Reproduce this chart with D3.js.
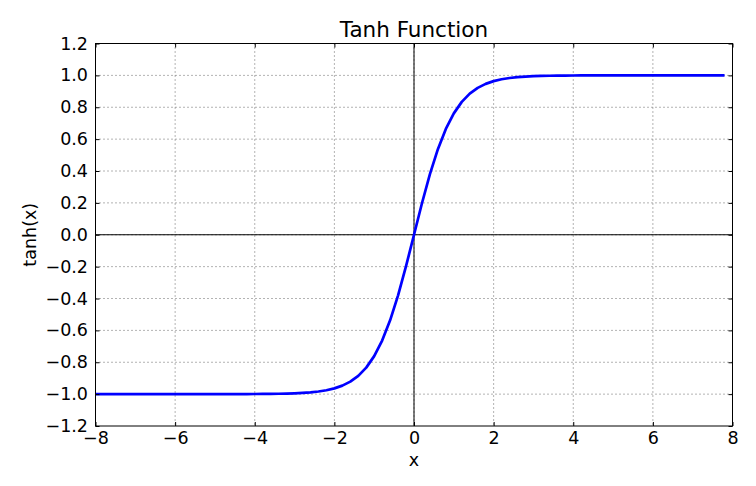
<!DOCTYPE html>
<html>
<head>
<meta charset="utf-8">
<script src="https://cdn.jsdelivr.net/npm/d3@7"></script>
<style>
  body { margin: 0; background: #fff; }
  svg { display: block; font-family: "DejaVu Sans", sans-serif; }
</style>
</head>
<body>
<div id="chart"></div>
<script>
// sample points (step 0.2)
var xValues = [
  -8.0, -7.8, -7.6, -7.4, -7.2, -7.0, -6.8, -6.6, -6.4, -6.2,
  -6.0, -5.8, -5.6, -5.4, -5.2, -5.0, -4.8, -4.6, -4.4, -4.2,
  -4.0, -3.8, -3.6, -3.4, -3.2, -3.0, -2.8, -2.6, -2.4, -2.2,
  -2.0, -1.8, -1.6, -1.4, -1.2, -1.0, -0.8, -0.6, -0.4, -0.2,
   0.0,  0.2,  0.4,  0.6,  0.8,  1.0,  1.2,  1.4,  1.6,  1.8,
   2.0,  2.2,  2.4,  2.6,  2.8,  3.0,  3.2,  3.4,  3.6,  3.8,
   4.0,  4.2,  4.4,  4.6,  4.8,  5.0,  5.2,  5.4,  5.6,  5.8,
   6.0,  6.2,  6.4,  6.6,  6.8,  7.0,  7.2,  7.4,  7.6,  7.8
];
var yValues = [
  -1.0000, -1.0000, -1.0000, -1.0000, -1.0000, -1.0000, -1.0000, -1.0000, -1.0000, -1.0000,
  -1.0000, -1.0000, -1.0000, -1.0000, -0.9999, -0.9999, -0.9999, -0.9998, -0.9997, -0.9995,
  -0.9993, -0.9990, -0.9985, -0.9978, -0.9967, -0.9951, -0.9926, -0.9890, -0.9837, -0.9757,
  -0.9640, -0.9468, -0.9217, -0.8854, -0.8337, -0.7616, -0.6640, -0.5370, -0.3799, -0.1974,
   0.0000,  0.1974,  0.3799,  0.5370,  0.6640,  0.7616,  0.8337,  0.8854,  0.9217,  0.9468,
   0.9640,  0.9757,  0.9837,  0.9890,  0.9926,  0.9951,  0.9967,  0.9978,  0.9985,  0.9990,
   0.9993,  0.9995,  0.9997,  0.9998,  0.9999,  0.9999,  0.9999,  1.0000,  1.0000,  1.0000,
   1.0000,  1.0000,  1.0000,  1.0000,  1.0000,  1.0000,  1.0000,  1.0000,  1.0000,  1.0000
];
var xTicks = [-8, -6, -4, -2, 0, 2, 4, 6, 8];
var yTicks = [-1.2, -1.0, -0.8, -0.6, -0.4, -0.2, 0.0, 0.2, 0.4, 0.6, 0.8, 1.0, 1.2];

(function() {
    var W = 756, H = 486;
    var margin = {top: 43.5, right: 23.5, bottom: 60, left: 95.5};
    var width = W - margin.left - margin.right;
    var height = H - margin.top - margin.bottom;

    var svg = d3.select("#chart").append("svg")
        .attr("width", W)
        .attr("height", H);

    var g = svg.append("g")
        .attr("transform", "translate(" + margin.left + "," + margin.top + ")");

    var x = d3.scaleLinear().domain([-8, 8]).range([0, width]);
    var y = d3.scaleLinear().domain([-1.2, 1.2]).range([height, 0]);

    // dotted grid
    g.append("g").selectAll("line")
        .data(xTicks.slice(1, -1))
        .enter().append("line")
        .attr("x1", function(d) { return x(d); })
        .attr("x2", function(d) { return x(d); })
        .attr("y1", 0).attr("y2", height)
        .attr("stroke", "#666").attr("stroke-width", 1)
        .attr("stroke-dasharray", "1,3");
    g.append("g").selectAll("line")
        .data(yTicks.slice(1, -1))
        .enter().append("line")
        .attr("y1", function(d) { return y(d); })
        .attr("y2", function(d) { return y(d); })
        .attr("x1", 0).attr("x2", width)
        .attr("stroke", "#666").attr("stroke-width", 1)
        .attr("stroke-dasharray", "1,3");

    // zero lines
    g.append("line")
        .attr("x1", 0).attr("x2", width)
        .attr("y1", y(0)).attr("y2", y(0))
        .attr("stroke", "#000").attr("stroke-width", 1);
    g.append("line")
        .attr("x1", x(0)).attr("x2", x(0))
        .attr("y1", 0).attr("y2", height)
        .attr("stroke", "#000").attr("stroke-width", 1);

    // curve
    var pts = xValues.map(function(v, i) { return [v, yValues[i]]; });
    g.append("path")
        .datum(pts)
        .attr("fill", "none")
        .attr("stroke", "#0000ff")
        .attr("stroke-width", 2.7)
        .attr("stroke-linejoin", "round")
        .attr("d", d3.line()
            .x(function(d) { return x(d[0]); })
            .y(function(d) { return y(d[1]); }));

    // axes, ticks pointing inward on all four sides
    var fmtY = d3.format(".1f");
    var axB = g.append("g")
        .attr("transform", "translate(0," + height + ")")
        .call(d3.axisBottom(x).tickValues(xTicks).tickSizeInner(-4).tickSizeOuter(0).tickPadding(6));
    var axL = g.append("g")
        .call(d3.axisLeft(y).tickValues(yTicks).tickFormat(fmtY).tickSizeInner(-4).tickSizeOuter(0).tickPadding(7.5));
    var axT = g.append("g")
        .call(d3.axisTop(x).tickValues(xTicks).tickSizeInner(-4).tickSizeOuter(0).tickFormat(""));
    var axR = g.append("g")
        .attr("transform", "translate(" + width + ",0)")
        .call(d3.axisRight(y).tickValues(yTicks).tickSizeInner(-4).tickSizeOuter(0).tickFormat(""));

    [axB, axL, axT, axR].forEach(function(a) {
        a.select(".domain").remove();
        a.selectAll("line").attr("stroke", "#000");
        a.selectAll("text")
            .attr("font-family", "DejaVu Sans, sans-serif")
            .attr("font-size", 17.5)
            .attr("fill", "#000");
    });

    // frame
    g.append("rect")
        .attr("width", width).attr("height", height)
        .attr("fill", "none")
        .attr("stroke", "#000").attr("stroke-width", 1);

    // title and labels
    svg.append("text")
        .attr("x", margin.left + width / 2)
        .attr("y", 37)
        .attr("text-anchor", "middle")
        .attr("font-size", 21.5)
        .text("Tanh Function");

    svg.append("text")
        .attr("x", margin.left + width / 2)
        .attr("y", 466)
        .attr("text-anchor", "middle")
        .attr("font-size", 17.5)
        .text("x");

    svg.append("text")
        .attr("transform", "translate(36," + (margin.top + height / 2) + ") rotate(-90)")
        .attr("text-anchor", "middle")
        .attr("font-size", 17.5)
        .text("tanh(x)");
})();
</script>
</body>
</html>
